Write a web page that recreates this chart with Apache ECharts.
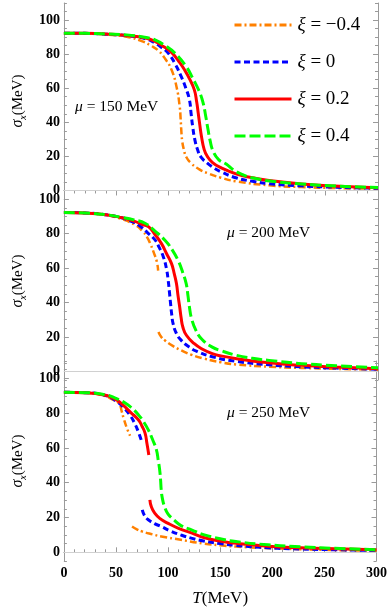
<!DOCTYPE html>
<html><head><meta charset="utf-8">
<script src="https://cdn.jsdelivr.net/npm/echarts@6/dist/echarts.min.js"></script>
<style>html,body{margin:0;padding:0;background:#fff}#c{width:390px;height:615px}</style>
</head><body><div id="c"></div>
<script>
// ---------- data ----------
const xiLabels = ['\u22120.4', '0', '0.2', '0.4'];
const muValues = ['150', '200', '250'];
const xTickValues = [0, 50, 100, 150, 200, 250, 300];
const yTickValues = [0, 20, 40, 60, 80, 100];

// mu = 150 MeV
const T150_m04 = [0,20,40,60,75,83,90.3,97,102.8,107.5,110.6,111.5,112.1,113,114.6,117,121.5,129,137,150,165,196,227,260,300];
const S150_m04 = [92.3,92.2,91.5,90.2,87.5,85,82,77,70.8,61,49.3,42,35.6,29,23.9,19.5,16,12.5,10.2,7.5,5.3,3,2,1.4,1];
const T150_0 = [0,20,40,60,78,87,93,99.6,106,112,116.5,119.9,121.5,123,125,127.7,131,137,143,149.5,165,180,196,227,260,300];
const S150_0 = [92.3,92.2,91.7,90.8,89,86.5,84,80.6,74.5,66.9,60,53.2,45,37.5,30,23.9,19.5,16,13.3,11.1,7.3,5.4,4,2.7,1.9,1.3];
const T150_02 = [0,20,40,60,78,87,95,102.8,110,115.2,120,124.6,126.8,128.3,129.8,131.4,134,137,142,149.5,165,180,196,227,258,300];
const S150_02 = [92.3,92.2,91.8,91,89.5,87.4,84.5,81,75.5,70.8,65.5,59,52,45.4,38.5,31.7,24,20,16.3,13.5,9.6,7.5,5.8,3.8,2.6,1.6];
const T150_04 = [0,20,40,60,80,87,96,106,116.8,123,129.3,133,135.5,137.7,139.5,142.6,148,155,162,170,180.7,200,227,260,300];
const S150_04 = [92.3,92.2,91.8,91.3,89.6,88.4,85.3,80.6,72.7,65.9,58.1,51.3,43.4,35.6,29.7,22.9,18,15.5,12.1,9.5,7.3,5.3,3.8,2.6,1.7];

// mu = 200 MeV
const T200_m04 = [0,20,40,55,68.5,75,79.4,83,85.6,88.8,90,90.2,90.3,93,96.5,104,112.1,122,134,150,165,196,227,260,300];
const S200_m04 = [92.3,92,90.8,88.5,84.9,81.5,78,73.5,69.4,63.6,58.5,null,22.9,20,18,14.8,12.2,9.6,7.4,5.3,4,2.7,2,1.5,1];
const T200_0 = [0,20,40,55,65,71.6,80,87.2,91,95,98,99.6,100.8,101.9,103,104.3,107.5,112.1,120,127.7,141.7,165,196,227,260,300];
const S200_0 = [92.3,92,91,89.2,87,84.9,80.5,76.2,72,66.5,59.5,52.9,46,39.3,33,27.7,22,18,14,11.5,8.5,5.8,3.8,2.7,1.9,1.3];
const T200_02 = [0,20,40,55,67,75,81,87,93.2,98,102.8,105.5,107.5,109,110.6,112,113.6,117,124.6,132,141.7,150,165,196,227,260,300];
const S200_02 = [92.3,92,91,89.3,87.3,85.3,83.9,79.5,74.2,68.5,62.6,56.5,51,44,37.4,31,25.8,21,16.1,13,10.3,9,7.4,5,3.5,2.5,1.6];
const T200_04 = [0,20,40,55,67,77.9,87,96.5,103,109,113.5,116.8,118.5,119.9,122,126.1,132,141.7,149.3,165,180,196,227,260,300];
const S200_04 = [92.3,92,91,89.5,88,85.9,81.5,76.2,71,64.5,57.5,51,44,37.4,30.5,23.8,18.5,14.1,12.2,9.3,7.6,6.4,4.5,3.3,2.1];

// mu = 250 MeV
const T250_m04 = [0,20,40,46,52.9,55.5,57.6,60.7,63.5,64,65.4,70,74.8,85,93.5,112.1,134,150,165,196,227,260,300];
const S250_m04 = [92,91.8,89.8,88,85.5,81,76.5,71,67,null,14.8,13.2,12,10.3,9.1,7.2,5,4,3.3,2.4,1.8,1.3,0.9];
const T250_0 = [0,20,40,50,57,63.8,68,71.6,74.5,75,75.2,77.5,81,87,93.5,102,112.1,123,134,150,165,196,227,260,300];
const S250_0 = [92,91.8,90.2,87,83.5,78.5,74,69,64,null,24.4,21,18.7,16.5,14.8,12.3,10,8,6.5,5,4,2.6,1.9,1.5,1.1];
const T250_02 = [0,20,40,50,56,64,71.6,75,77.9,79.7,81.5,82,82.5,84,87.2,92,99.6,110,123,134,150,165,196,227,260,300];
const S250_02 = [92,91.8,90.3,87.8,85,80.5,76.1,72.5,68.5,62.5,56,null,30.2,26,22.5,19.5,16.8,13.8,11,8.5,6.5,5.2,3.5,2.6,2,1.5];
const T250_04 = [0,20,40,50,59.2,66,71.6,76,81,85,88.8,90.5,91.9,92.8,93.4,94.5,96.6,100,105.9,112,123,134,150,165,196,227,260,300];
const S250_04 = [92,91.8,90.5,88.5,85.7,82.5,79,75.5,70.4,65,58.9,53,47.4,41.5,35.9,31,26.3,22,18.5,15.5,12.8,10.2,7.8,6.2,4.3,3.2,2.3,1.5];

const panels = [
  [[T150_m04, S150_m04], [T150_0, S150_0], [T150_02, S150_02], [T150_04, S150_04]],
  [[T200_m04, S200_m04], [T200_0, S200_0], [T200_02, S200_02], [T200_04, S200_04]],
  [[T250_m04, S250_m04], [T250_0, S250_0], [T250_02, S250_02], [T250_04, S250_04]]
];

// ---------- styles ----------
const FRAME = '#9a9a9a';
const SERIF = '"Liberation Serif", "DejaVu Serif", serif';
const seriesStyles = [
  { color: '#FF8000', width: 2.5, type: [7, 3, 2, 3] },
  { color: '#0000FF', width: 3, type: [6, 3.5] },
  { color: '#FF0000', width: 3, type: 'solid' },
  { color: '#00FF00', width: 3, type: [11, 4] }
];
const gridBoxes = [
  { left: 57, width: 321, top: 3, height: 196 },
  { left: 57, width: 321, top: 182, height: 198 },
  { left: 57, width: 321, top: 361, height: 200 }
];

const chart = echarts.init(document.getElementById('c'), null, { renderer: 'canvas' });

const xAxis = [], yAxis = [], series = [], graphic = [];
const tickLine = { color: FRAME, width: 1 };
const minorY = [];
for (let v = -5; v <= 110; v += 5) if (!(v % 20 === 0 && v >= 0 && v <= 100)) minorY.push(v);

gridBoxes.forEach((g, gi) => {
  const last = gi === 2;
  xAxis.push({
    gridIndex: gi, type: 'value', position: 'bottom', min: 0, max: 300, interval: 50,
    axisLine: { show: last, lineStyle: { color: FRAME, width: 1 } },
    axisTick: { show: last, inside: true, length: 5, lineStyle: tickLine },
    minorTick: { show: last, splitNumber: 5, length: 3, lineStyle: tickLine },
    axisLabel: { show: last, color: '#000', fontFamily: SERIF, fontWeight: 'bold', fontSize: 14, margin: 5,
      customValues: xTickValues },
    splitLine: { show: false }, minorSplitLine: { show: false },
    name: last ? '{t|T}(MeV)' : '', nameLocation: 'middle', nameGap: 29,
    nameTextStyle: { fontFamily: SERIF, fontSize: 17, color: '#000',
      rich: { t: { fontFamily: SERIF, fontSize: 17, fontStyle: 'italic', color: '#000' } } }
  });
  const yBase = {
    gridIndex: gi, type: 'value', min: -5, max: 110, interval: 5,
    splitLine: { show: false }
  };
  yAxis.push(Object.assign({}, yBase, {
    position: 'left',
    axisLine: { show: true, lineStyle: { color: FRAME, width: 1 } },
    axisTick: { show: true, inside: true, length: 5, lineStyle: tickLine, customValues: yTickValues },
    axisLabel: { show: true, color: '#000', fontFamily: SERIF, fontWeight: 'bold', fontSize: 14, margin: 4,
      customValues: yTickValues },
    name: '{s|\u03c3}{x|x}{r|(MeV)}', nameLocation: 'middle', nameGap: 35, nameRotate: 90,
    nameTextStyle: { fontFamily: SERIF, fontSize: 15, color: '#000', lineHeight: 20,
      rich: {
        s: { fontFamily: SERIF, fontSize: 16, fontStyle: 'italic', color: '#000', lineHeight: 20, verticalAlign: 'middle' },
        x: { fontFamily: SERIF, fontSize: 10, fontStyle: 'italic', color: '#000', lineHeight: 20, verticalAlign: 'bottom' },
        r: { fontFamily: SERIF, fontSize: 15, color: '#000', lineHeight: 20, verticalAlign: 'middle' }
      } }
  }));
  yAxis.push(Object.assign({}, yBase, {
    position: 'left', axisLine: { show: false },
    axisTick: { show: true, inside: true, length: 3, lineStyle: tickLine, customValues: minorY },
    axisLabel: { show: false }
  }));
  yAxis.push(Object.assign({}, yBase, {
    position: 'right',
    axisLine: { show: true, lineStyle: { color: FRAME, width: 1 } },
    axisTick: { show: true, inside: true, length: 5, lineStyle: tickLine, customValues: yTickValues },
    axisLabel: { show: false }
  }));
  yAxis.push(Object.assign({}, yBase, {
    position: 'right', axisLine: { show: false },
    axisTick: { show: true, inside: true, length: 3, lineStyle: tickLine, customValues: minorY },
    axisLabel: { show: false }
  }));

  panels[gi].forEach((cur, si) => {
    const [T, S] = cur;
    const st = seriesStyles[si];
    const s = {
      type: 'line', name: xiLabels[si], xAxisIndex: gi, yAxisIndex: gi * 4,
      data: T.map((t, i) => [t, S[i] === null ? '-' : S[i]]),
      showSymbol: false, symbol: 'circle', symbolSize: 0, smooth: 0.5,
      connectNulls: false, silent: true, animation: false,
      lineStyle: { color: st.color, width: st.width, type: st.type, cap: 'butt', join: 'round' },
      itemStyle: { color: st.color }, z: 2 + si
    };
    if (si === 0) {
      s.markLine = {
        silent: true, symbol: ['none', 'none'], animation: false, label: { show: false },
        lineStyle: { color: '#d0d0d0', width: 1.2, type: 'solid' },
        data: [{ yAxis: 0 }]
      };
    }
    series.push(s);
  });

  graphic.push({
    type: 'text', left: gi === 0 ? 75 : 227, top: [99, 225, 405][gi], z: 20,
    style: {
      text: '{m|\u03bc} = ' + muValues[gi] + ' MeV', fill: '#000',
      font: '15.5px ' + SERIF,
      rich: { m: { fontFamily: SERIF, fontSize: 15.5, fontStyle: 'italic', fill: '#000' } }
    }
  });
});

xAxis.push({
  gridIndex: 0, type: 'value', position: 'top', min: 0, max: 300, interval: 50,
  axisLine: { show: true, lineStyle: { color: FRAME, width: 1 } },
  axisTick: { show: true, inside: true, length: 5, lineStyle: tickLine },
  minorTick: { show: true, splitNumber: 5, length: 3, lineStyle: tickLine },
  axisLabel: { show: false }, splitLine: { show: false }
});

chart.setOption({
  animation: false,
  backgroundColor: '#fff',
  grid: gridBoxes.map(g => Object.assign({ containLabel: false }, g)),
  xAxis, yAxis, series, graphic,
  legend: {
    data: xiLabels, orient: 'vertical', left: 228, top: 10, itemWidth: 57, itemHeight: 14, itemGap: 17,
    selectedMode: false,
    itemStyle: { opacity: 0, borderWidth: 0 },
    lineStyle: { width: 3 },
    formatter: n => '{i|\u03be} = ' + n,
    textStyle: { fontFamily: SERIF, fontSize: 19, color: '#000', padding: [0, 0, 0, 1], lineHeight: 20,
      rich: { i: { fontFamily: SERIF, fontSize: 19, fontStyle: 'italic', color: '#000', lineHeight: 20 } } }
  }
});
</script>
</body></html>
